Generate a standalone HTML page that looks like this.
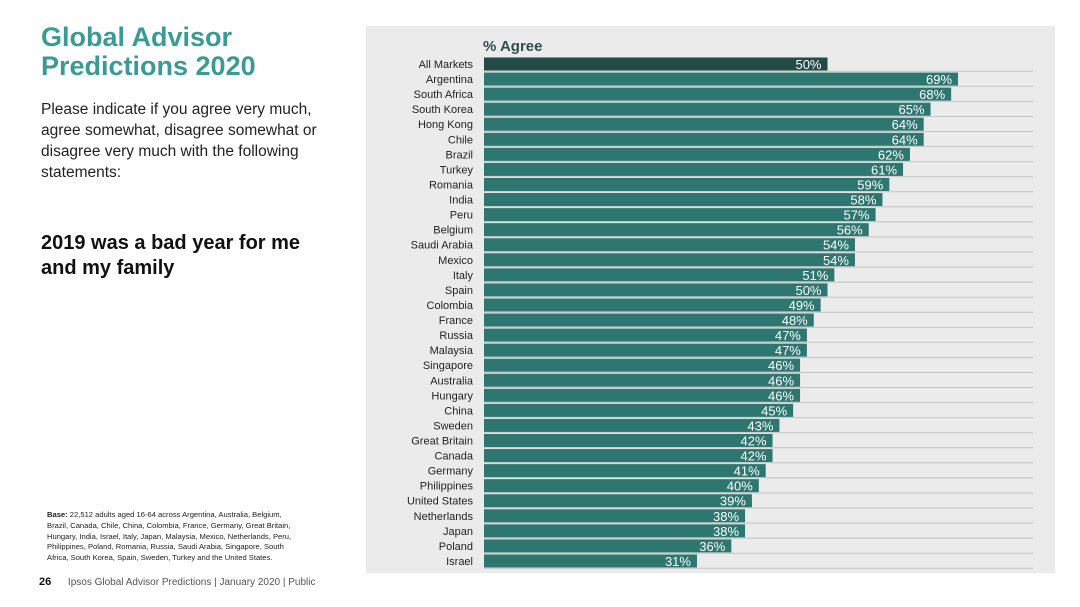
<!DOCTYPE html>
<html><head><meta charset="utf-8"><style>
body{margin:0;width:1080px;height:607px;background:#fff;font-family:"Liberation Sans",sans-serif;position:relative;overflow:hidden}
.abs{position:absolute}
</style></head><body>
<div class="abs" style="left:41px;top:23px;color:#3a9a94;font-size:27px;font-weight:bold;line-height:29px">Global Advisor<br>Predictions 2020</div>
<div class="abs" style="left:41px;top:99px;width:290px;color:#222;font-size:15.5px;line-height:21px">Please indicate if you agree very much, agree somewhat, disagree somewhat or disagree very much with the following statements:</div>
<div class="abs" style="left:41px;top:231px;width:300px;color:#111;font-size:20px;font-weight:bold;line-height:25px">2019 was a bad year for me and my family</div>
<div class="abs" style="left:47px;top:510px;width:250px;color:#222;font-size:7.6px;line-height:10.8px"><b>Base:</b> 22,512 adults aged 16-64 across Argentina, Australia, Belgium, Brazil, Canada, Chile, China, Colombia, France, Germany, Great Britain, Hungary, India, Israel, Italy, Japan, Malaysia, Mexico, Netherlands, Peru, Philippines, Poland, Romania, Russia, Saudi Arabia, Singapore, South Africa, South Korea, Spain, Sweden, Turkey and the United States.</div>
<div class="abs" style="left:39px;top:576px;color:#555;font-size:10px"><b style="color:#111;font-size:11px">26</b> &nbsp;&nbsp;&nbsp;&nbsp; Ipsos Global Advisor Predictions | January 2020 | Public</div>
<svg class="abs" style="left:0;top:0" width="1080" height="607">
<rect x="366" y="26" width="689" height="547" fill="#ebebeb"/>
<text x="483" y="51" font-size="15" font-weight="bold" fill="#2f4f4c" font-family="Liberation Sans,sans-serif">% Agree</text>
<g id="g"></g>
</svg>
<script>
const categories=["All Markets","Argentina","South Africa","South Korea","Hong Kong","Chile","Brazil","Turkey","Romania","India","Peru","Belgium","Saudi Arabia","Mexico","Italy","Spain","Colombia","France","Russia","Malaysia","Singapore","Australia","Hungary","China","Sweden","Great Britain","Canada","Germany","Philippines","United States","Netherlands","Japan","Poland","Israel"];
const values=[50,69,68,65,64,64,62,61,59,58,57,56,54,54,51,50,49,48,47,47,46,46,46,45,43,42,42,41,40,39,38,38,36,31];
const x0=484,pxPer=6.87,y0=57.5,pitch=15.06,bh=13;
const xs=v=>x0+v*pxPer, ys=i=>y0+i*pitch;
const g=document.getElementById('g');const ns='http://www.w3.org/2000/svg';
categories.forEach((c,i)=>{
 const ln=document.createElementNS(ns,'line');
 ln.setAttribute('x1',x0);ln.setAttribute('x2',1033);ln.setAttribute('y1',ys(i)+bh+0.8);ln.setAttribute('y2',ys(i)+bh+0.8);ln.setAttribute('stroke','#c4c4c4');ln.setAttribute('stroke-width','1');
 
 
 g.appendChild(ln);
 const r=document.createElementNS(ns,'rect');
 r.setAttribute('x',x0);r.setAttribute('y',ys(i));r.setAttribute('width',xs(values[i])-x0);r.setAttribute('height',bh);
 r.setAttribute('fill',i==0?'#224a47':'#2e7670');
 
 
 g.appendChild(r);
 const t=document.createElementNS(ns,'text');
 t.setAttribute('x',473);t.setAttribute('y',ys(i)+bh/2+4);t.setAttribute('text-anchor','end');t.setAttribute('font-size','11');t.setAttribute('fill','#222');t.setAttribute('font-family','Liberation Sans,sans-serif');
 t.textContent=c;
 
 
 g.appendChild(t);
 const v=document.createElementNS(ns,'text');
 v.setAttribute('x',xs(values[i])-6);v.setAttribute('y',ys(i)+bh/2+5);v.setAttribute('text-anchor','end');v.setAttribute('font-size','13');v.setAttribute('fill','#fff');v.setAttribute('font-family','Liberation Sans,sans-serif');
 v.textContent=values[i]+'%';
 
 
 g.appendChild(v);
});
</script>
</body></html>
